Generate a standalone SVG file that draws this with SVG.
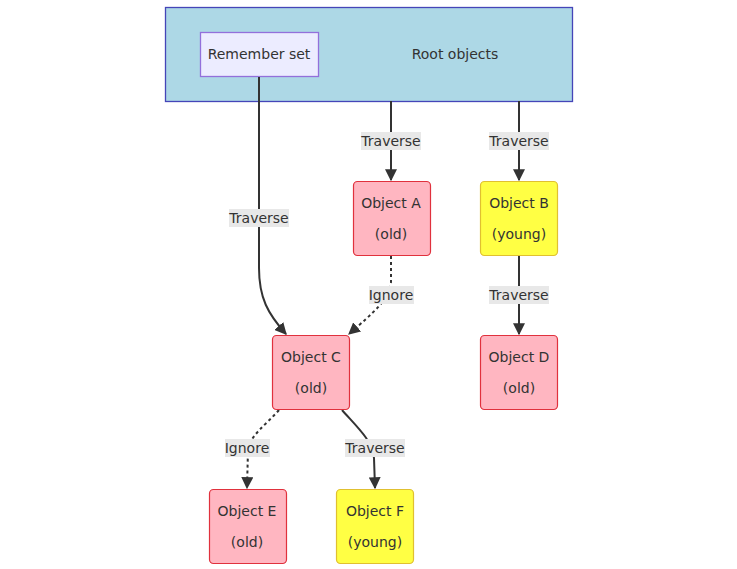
<svg xmlns="http://www.w3.org/2000/svg" width="737" height="569" viewBox="0 0 737 569">
<style>
text{font-family:"DejaVu Sans",Verdana,sans-serif;font-size:14px;fill:#333;text-anchor:middle;dominant-baseline:central}
.old{fill:#ffb6c1;stroke:#e0313d;stroke-width:1.2}
.young{fill:#ffff44;stroke:#e0c030;stroke-width:1.2}
.e{fill:none;stroke:#333;stroke-width:2}
.d{stroke-dasharray:3 3}
.lb{fill:#e8e8e8}
</style>
<defs>
<marker id="ah" viewBox="0 0 10 10" refX="9" refY="5" markerUnits="userSpaceOnUse" markerWidth="12" markerHeight="12" orient="auto">
<path d="M0,0 L10,5 L0,10 z" fill="#333"/>
</marker>
</defs>
<g id="root">
<rect x="165.5" y="7.5" width="407" height="94" fill="#add8e6" stroke="#4545b8" stroke-width="1.3"/>
<text x="455" y="54">Root objects</text>
</g>
<g id="remember">
<rect x="200.5" y="32.5" width="118" height="44" fill="#ececff" stroke="#9370db" stroke-width="1.3"/>
<text x="259" y="54">Remember set</text>
</g>
<g id="connectors">
<path class="e" d="M259,77 L259,268 C259,298 268,314 286,334" marker-end="url(#ah)"/>
<path class="e" d="M391,101 L391,180" marker-end="url(#ah)"/>
<path class="e" d="M519,101 L519,180" marker-end="url(#ah)"/>
<path class="e d" d="M391,256 L391,282 C389,300 374,312 349,334" marker-end="url(#ah)"/>
<path class="e" d="M519,256 L519,334" marker-end="url(#ah)"/>
<path class="e d" d="M279,410 C266,425 250,435 248,450 L247,488" marker-end="url(#ah)"/>
<path class="e" d="M342,410 C358,428 372,440 374,458 L375,488" marker-end="url(#ah)"/>
<rect class="lb" x="229" y="209" width="60" height="18"/>
<text x="259" y="218">Traverse</text>
<rect class="lb" x="361" y="132" width="60" height="18"/>
<text x="391" y="141">Traverse</text>
<rect class="lb" x="489" y="132" width="60" height="18"/>
<text x="519" y="141">Traverse</text>
<rect class="lb" x="369" y="286" width="45" height="18"/>
<text x="391" y="295">Ignore</text>
<rect class="lb" x="489" y="286" width="60" height="18"/>
<text x="519" y="295">Traverse</text>
<rect class="lb" x="225" y="439" width="45" height="18"/>
<text x="247" y="448">Ignore</text>
<rect class="lb" x="345" y="439" width="60" height="18"/>
<text x="375" y="448">Traverse</text>
</g>
<g id="objA"><rect class="old" x="353.5" y="181.5" width="77" height="74" rx="4"/><text x="391" y="203">Object A</text><text x="391" y="234">(old)</text></g>
<g id="objB"><rect class="young" x="480.5" y="181.5" width="77" height="74" rx="4"/><text x="519" y="203">Object B</text><text x="519" y="234">(young)</text></g>
<g id="objC"><rect class="old" x="272.5" y="335.5" width="77" height="74" rx="4"/><text x="311" y="357">Object C</text><text x="311" y="388">(old)</text></g>
<g id="objD"><rect class="old" x="480.5" y="335.5" width="77" height="74" rx="4"/><text x="519" y="357">Object D</text><text x="519" y="388">(old)</text></g>
<g id="objE"><rect class="old" x="209.5" y="489.5" width="77" height="74" rx="4"/><text x="247" y="511">Object E</text><text x="247" y="542">(old)</text></g>
<g id="objF"><rect class="young" x="336.5" y="489.5" width="77" height="74" rx="4"/><text x="375" y="511">Object F</text><text x="375" y="542">(young)</text></g>
</svg>
